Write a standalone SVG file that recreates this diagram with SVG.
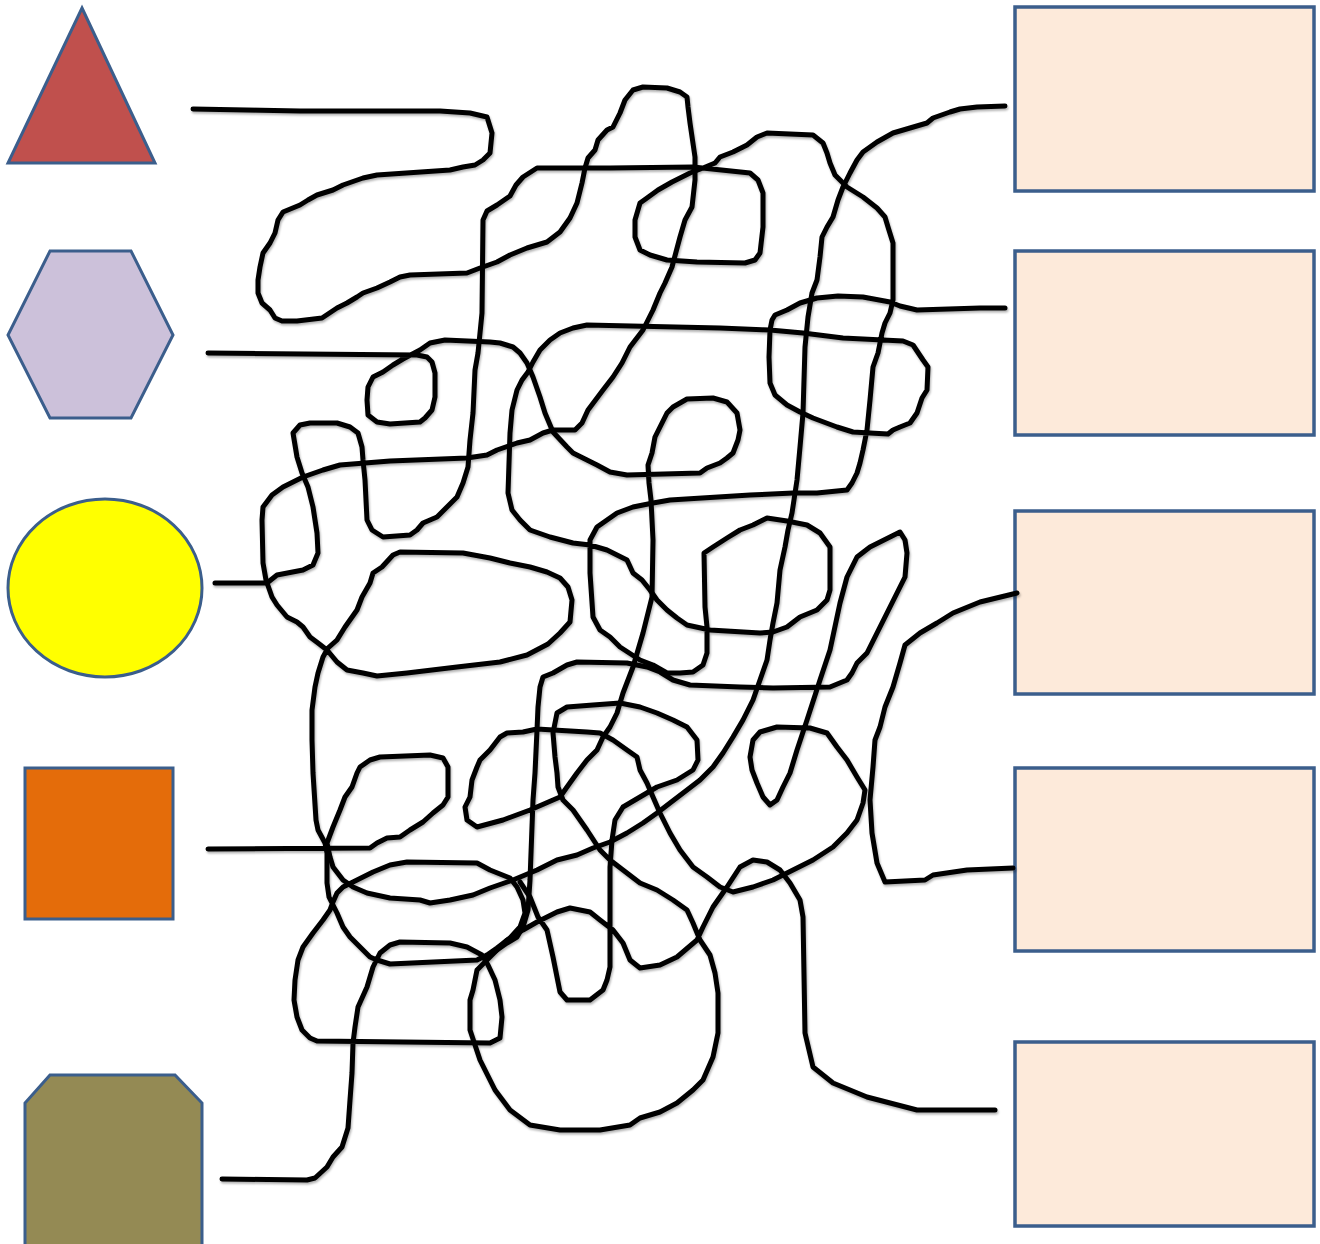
<svg xmlns="http://www.w3.org/2000/svg" width="1320" height="1244" viewBox="0 0 1320 1244">
<defs>
<filter id="sh" x="-5%" y="-5%" width="110%" height="110%">
<feDropShadow dx="1" dy="2" stdDeviation="1.2" flood-color="#000" flood-opacity="0.3"/>
</filter>
</defs>
<style>
.shape{stroke:#3B5E8C;stroke-width:3}
.box{fill:#FDEADA;stroke:#3B5E8C;stroke-width:3.5}
.wire{fill:none;stroke:#000;stroke-width:5;stroke-linejoin:round;stroke-linecap:round}
</style>
<rect width="1320" height="1244" fill="#fff"/>
<g id="triangle"><polygon class="shape" fill="#C0504D" points="82,8 155,163 8,163"/></g>
<g id="hexagon"><polygon class="shape" fill="#CCC1DA" points="50,251 131,251 173,335 131,418 50,418 8,335"/></g>
<g id="circle"><ellipse class="shape" fill="#FFFF00" cx="105" cy="588" rx="97" ry="89"/></g>
<g id="square"><rect class="shape" fill="#E46C0A" x="25" y="768" width="148" height="151"/></g>
<g id="octagon"><polygon class="shape" fill="#948A54" points="50,1075 175,1075 202,1103 202,1246 25,1246 25,1103"/></g>
<g id="box1"><rect class="box" x="1015" y="7" width="299" height="184"/></g>
<g id="box2"><rect class="box" x="1015" y="251" width="299" height="184"/></g>
<g id="box3"><rect class="box" x="1015" y="511" width="299" height="183"/></g>
<g id="box4"><rect class="box" x="1015" y="768" width="299" height="183"/></g>
<g id="box5"><rect class="box" x="1015" y="1042" width="299" height="184"/></g>
<g id="connectors" filter="url(#sh)">
<polyline class="wire" points="193,109 300,111 440,111 470,113 487,117 492,133 490,153 483,160 475,165 463,167 450,170 377,175 363,178 343,185 333,190 317,195 308,200 300,205 283,212 278,220 275,233 270,243 263,253 260,267 258,280 258,293 262,303 270,310 275,318 282,321 297,321 322,318 337,308 347,303 357,297 363,293 377,288 390,282 400,277 410,275 467,273 480,268 497,262 510,255 527,248 547,242 560,232 570,218 577,203 582,183 585,168 588,158 595,150 598,140 607,130 613,127 620,113 625,100 633,90 643,87 667,88 680,92 687,97 688,107 690,123 695,157 695,180 692,207 685,220 680,237 672,267 665,283 660,293 653,310 643,330 630,347 622,363 613,377 603,390 588,410 582,423 575,430 553,430 543,433 530,440 517,443 497,450 487,455 467,458 390,461 340,465 323,470 303,477 283,487 272,495 263,507 262,520 263,563 266,580 272,597 277,605 287,617 297,622 303,627 310,637 318,643 327,650 337,662 347,670 363,673 377,676 407,673 457,667 500,662 527,655 548,644 560,633 570,622 572,600 568,587 560,578 547,572 530,567 510,563 490,558 463,553 400,552 393,555 382,567 373,573 370,583 362,597 357,610 345,627 337,640 328,648 323,657 318,673 315,687 312,710 312,740 313,773 316,820 318,830 325,843 327,853 327,883 329,897 337,913 343,927 350,937 360,947 370,957 377,960 390,964 477,960 487,955 497,948 510,938 520,927 525,913 523,900 517,887 510,878 490,870 477,863 407,862 390,865 373,872 357,880 343,887 337,893 333,902 330,910 323,920 313,933 303,947 298,960 295,980 294,1000 297,1017 302,1030 310,1038 317,1041 490,1043 500,1038 502,1017 500,1000 495,980 488,965 482,955 467,947 450,943 400,942 390,945 380,953 373,967 367,987 358,1007 355,1027 353,1043 352,1073 350,1100 348,1128 342,1147 333,1157 327,1167 315,1178 307,1180 222,1179"/>
<polyline class="wire" points="215,583 267,583 277,575 303,570 313,565 318,553 317,533 313,507 308,487 302,473 297,457 293,433 300,425 310,423 337,423 350,427 358,433 362,447 363,460 365,480 367,520 372,530 383,537 410,535 417,530 423,523 437,517 447,507 457,497 463,483 468,467 470,440 473,413 475,370 478,353 482,313 483,220 487,211 497,205 510,196 516,185 523,177 537,168 610,168 693,167 750,173 758,180 763,193 763,227 760,253 755,260 745,263 697,262 667,260 650,255 640,250 635,237 635,220 640,203 647,198 658,190 672,182 690,173 703,168 715,163 720,157 733,152 747,145 757,137 767,133 813,135 823,143 827,153 830,163 835,175 847,187 863,197 877,208 885,217 888,227 893,243 893,300 890,313 885,323 882,333 878,353 873,367 870,400 867,430 863,450 860,463 857,473 852,483 847,490 817,493 793,493 750,495 670,500 653,503 633,507 617,513 607,520 597,527 590,540 590,573 593,617 600,630 610,637 620,647 640,660 653,665 667,673 680,673 693,672 703,665 707,653 707,627 705,607 704,553 713,547 727,538 740,530 753,525 767,518 787,521 807,525 820,533 830,547 830,590 827,600 817,610 800,617 787,627 773,632 760,633 710,630 687,625 677,618 667,610 657,600 650,590 642,580 633,573 627,560 607,550 590,545 573,543 550,537 530,530 520,520 512,510 508,493 510,433 512,410 517,390 522,380 528,372 533,362 540,350 550,340 560,333 573,328 587,325 720,328 770,330 803,333 843,338 903,341 913,345 923,360 928,367 927,390 922,398 917,413 910,423 900,427 893,430 888,434 870,433 853,432 837,427 813,418 800,412 787,405 775,395 770,383 769,357 770,330 772,320 775,315 787,310 800,303 817,298 838,296 863,297 890,302 900,306 917,310 980,308 1005,308"/>
<polyline class="wire" points="208,849 370,848 377,843 387,838 400,837 410,830 423,822 433,813 443,805 448,797 448,767 443,758 430,755 380,757 370,760 360,767 357,773 352,787 345,797 340,810 333,827 327,843 330,857 333,867 343,880 353,887 367,893 390,898 420,900 430,903 450,900 473,895 490,888 513,880 537,870 557,860 577,855 593,848 610,842 627,833 643,823 657,813 670,803 687,790 700,780 713,767 723,753 733,737 743,720 753,700 760,680 767,660 770,640 773,623 777,603 780,570 785,547 788,530 792,513 797,480 800,447 803,413 805,347 808,317 812,293 817,280 820,257 822,237 827,227 833,217 838,200 843,187 850,173 857,160 863,152 877,142 893,133 910,128 927,123 933,118 950,112 960,109 977,107 1005,106"/>
<polyline class="wire" points="208,353 417,355 427,357 432,362 435,373 435,397 432,410 425,418 420,422 390,424 377,422 368,415 367,400 368,387 373,377 383,372 393,365 403,359 420,350 430,343 445,340 490,342 500,343 513,347 520,353 527,363 533,377 540,397 545,413 553,432 567,447 573,453 587,460 597,465 610,472 627,475 700,473 707,468 720,463 727,458 733,453 738,440 740,430 737,413 727,402 713,398 687,399 673,407 667,413 660,427 655,437 652,453 648,465 649,483 651,500 653,540 652,597 648,613 643,633 638,650 633,667 628,680 623,693 620,703 617,713 610,727 603,737 597,750 587,760 577,773 567,787 560,797 553,800 530,810 503,820 477,827 467,820 465,807 470,797 472,780 477,767 480,760 490,750 500,737 507,733 523,732 537,729 587,732 600,733 613,740 627,750 637,757 640,770 647,783 653,797 660,813 670,833 680,850 693,867 707,877 720,887 733,892 753,887 773,880 793,870 813,860 833,847 847,833 857,820 863,803 865,790 857,777 847,760 837,747 827,733 810,728 777,727 760,732 753,740 750,757 752,770 757,783 763,797 770,805 777,800 783,787 790,773 797,750 807,720 820,680 830,650 840,603 847,577 857,557 870,547 890,537 900,532 905,540 907,553 905,577 897,593 887,613 877,633 867,653 857,663 852,673 847,680 830,687 773,688 740,687 690,685 673,680 660,672 647,667 627,663 577,662 567,665 553,673 543,677 540,687 538,707 537,730 535,773 533,800 530,880 528,910 523,927 517,937 507,943 497,950 487,957"/>
<polyline class="wire" points="1017,593 980,602 953,613 937,623 920,633 905,645 900,663 893,687 885,707 880,727 875,740 873,767 870,800 872,833 877,863 885,882 925,880 933,875 967,870 1013,868"/>
<polyline class="wire" points="995,1110 917,1110 867,1097 833,1083 813,1067 805,1033 803,917 800,900 790,883 780,870 767,862 753,860 740,867 727,887 713,907 703,927 697,940 677,957 660,965 640,968 630,960 623,943 613,930 600,920 590,912 570,908 557,912 537,922 523,930 507,940 490,957 477,970 473,990 470,1000 470,1030 480,1060 495,1090 510,1110 530,1125 560,1130 600,1130 630,1125 640,1118 660,1112 677,1103 693,1090 703,1080 713,1057 718,1033 718,993 715,973 710,955 700,940 693,923 687,910 673,900 657,890 640,883 623,870 610,860 600,850 587,830 573,810 563,800 558,787 557,773 555,757 553,733 557,713 567,707 593,705 620,703 640,707 657,713 673,720 687,727 697,740 698,760 693,770 677,780 657,787 640,797 623,807 615,820 612,840 610,867 610,967 607,980 603,990 590,1000 567,1000 560,992 557,977 553,957 547,930 538,917 530,897 520,882"/>
</g>
</svg>
